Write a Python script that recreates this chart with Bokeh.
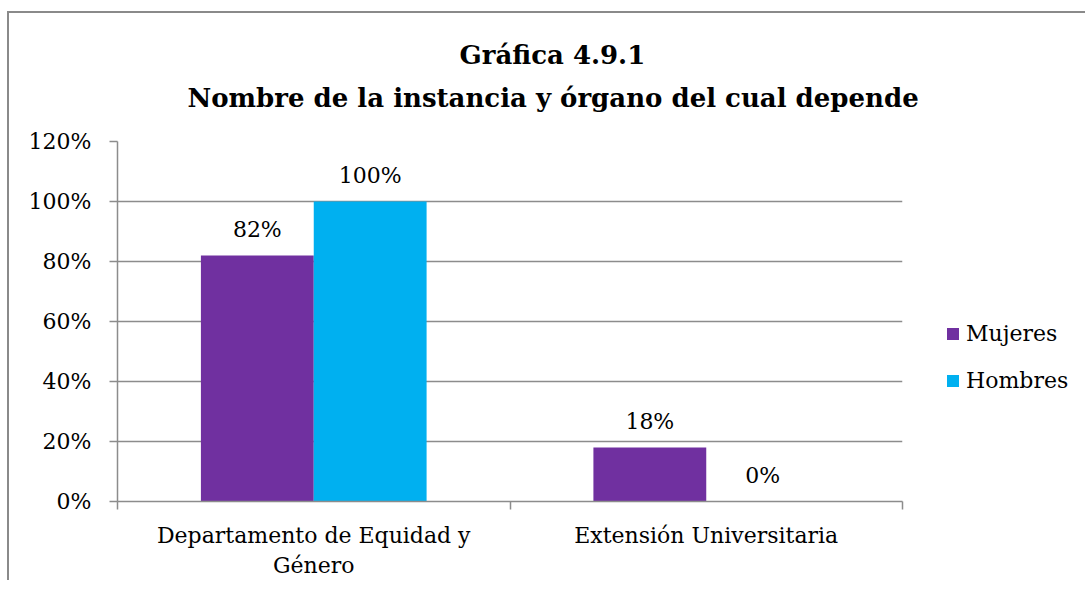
from bokeh.plotting import figure
from bokeh.models import Range1d, FixedTicker, NumeralTickFormatter, Legend, LegendItem, ColumnDataSource, Title
from bokeh.core.properties import value
from bokeh.embed import file_html
from bokeh.resources import INLINE

# ---- data ----
categories = ["Departamento de Equidad y\nGénero", "Extensión Universitaria"]
series_names = ["Mujeres", "Hombres"]
mujeres = [0.82, 0.18]
hombres = [1.00, 0.00]
y_ticks = [0.0, 0.2, 0.4, 0.6, 0.8, 1.0, 1.2]
title_lines = ["Gráfica 4.9.1", "Nombre de la instancia y órgano del cual depende"]

colors = ["#7030A0", "#00B0F0"]
FONT = "DejaVu Serif"
GRAY = "#8c8c8c"
bar_w = 0.2875

idx = list(range(len(categories)))
centers = [i + 0.5 for i in idx]

p = figure(
    frame_width=785, frame_height=360,
    min_border_left=108, min_border_top=128, min_border_right=177, min_border_bottom=70,
    x_range=Range1d(0, len(categories)), y_range=Range1d(0, 1.2),
    output_backend="svg", toolbar_location=None, title=None,
)
p.styles = {"margin-top": "11px", "margin-left": "7px",
            "border-top": "2px solid #8a8a8a", "border-left": "2px solid #8a8a8a"}
p.outline_line_color = None
p.background_fill_color = "white"

# gap between title block and plot area (blank, white-on-white spacer)
p.add_layout(Title(text="\u00a0", text_font_size="10px", standoff=16, text_color="white"), "above")
# title lines (centred on the whole chart area): added nearest-to-frame first
for line, standoff, offset in ((title_lines[1], 0, 70), (title_lines[0], 22, 342)):
    t = Title(text=line, align="left", offset=offset, text_font=FONT, text_font_size="26px",
              text_font_style="bold", text_color="black", standoff=standoff)
    p.add_layout(t, "above")

src_m = ColumnDataSource(dict(x=[c - bar_w / 2 for c in centers], top=mujeres,
                              lbl=[f"{round(v*100)}%" for v in mujeres]))
src_h = ColumnDataSource(dict(x=[c + bar_w / 2 for c in centers], top=hombres,
                              lbl=[f"{round(v*100)}%" for v in hombres]))

r_m = p.vbar(x="x", top="top", width=bar_w, bottom=0, source=src_m, fill_color=colors[0], line_color=None)
r_h = p.vbar(x="x", top="top", width=bar_w, bottom=0, source=src_h, fill_color=colors[1], line_color=None)

for src in (src_m, src_h):
    p.text(x="x", y="top", text="lbl", source=src, text_align="center", text_baseline="alphabetic",
           y_offset=-26, text_font=value(FONT), text_font_size="22px", text_color="black")

# y axis
p.yaxis.ticker = FixedTicker(ticks=y_ticks)
p.yaxis.formatter = NumeralTickFormatter(format="0%")
p.yaxis.axis_line_color = GRAY
p.yaxis.axis_line_width = 1.5
p.yaxis.major_tick_line_color = GRAY
p.yaxis.major_tick_line_width = 1.5
p.yaxis.major_tick_out = 8
p.yaxis.major_tick_in = 0
p.yaxis.minor_tick_line_color = None
p.yaxis.major_label_standoff = 18
p.yaxis.major_label_text_font = FONT
p.yaxis.major_label_text_font_size = "22px"
p.yaxis.major_label_text_color = "black"

# x axis
p.xaxis.ticker = FixedTicker(ticks=centers, minor_ticks=[0] + [i + 1 for i in idx])
p.xaxis.major_label_overrides = {c: lab for c, lab in zip(centers, categories)}
p.xaxis.axis_line_color = GRAY
p.xaxis.axis_line_width = 1.5
p.xaxis.major_tick_line_color = None
p.xaxis.major_tick_out = 0
p.xaxis.major_tick_in = 0
p.xaxis.minor_tick_line_color = GRAY
p.xaxis.minor_tick_line_width = 1.5
p.xaxis.minor_tick_out = 8
p.xaxis.minor_tick_in = 0
p.xaxis.major_label_standoff = 13
p.xaxis.major_label_text_font = FONT
p.xaxis.major_label_text_font_size = "22px"
p.xaxis.major_label_text_color = "black"

p.xgrid.grid_line_color = None
p.ygrid.ticker = FixedTicker(ticks=y_ticks)
p.ygrid.grid_line_color = GRAY
p.ygrid.grid_line_width = 1.5

legend = Legend(items=[LegendItem(label=series_names[0], renderers=[r_m]),
                       LegendItem(label=series_names[1], renderers=[r_h])],
                location=(43, 108))
legend.border_line_color = None
legend.background_fill_alpha = 0
legend.padding = 0
legend.margin = 0
legend.glyph_width = 15
legend.glyph_height = 15
legend.label_height = 26
legend.spacing = 21
legend.label_standoff = 6
legend.label_text_font = FONT
legend.label_text_font_size = "22px"
legend.label_text_color = "black"
p.add_layout(legend, "right")

open("out.html", "w").write(file_html(p, INLINE))
